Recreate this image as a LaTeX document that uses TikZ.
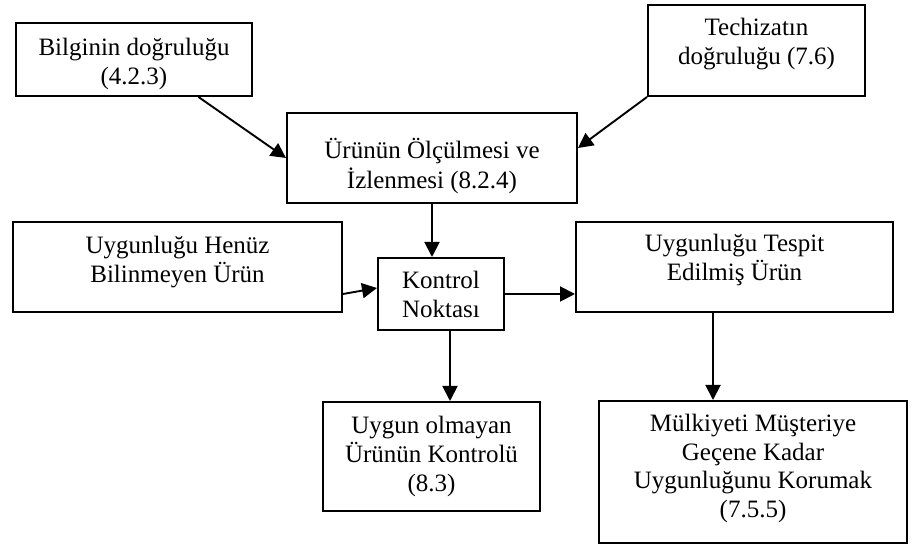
\documentclass[tikz,border=0pt]{standalone}
\usepackage{fontspec}
\setmainfont{Liberation Serif}
\usetikzlibrary{arrows.meta,calc}
\tikzset{
  box/.style={draw, line width=2pt, rectangle, inner sep=0pt},
  lbl/.style={anchor=base, inner sep=0pt, font=\fontsize{25}{28.5}\selectfont},
  conn/.style={line width=1.9pt, -{Triangle[length=15pt,width=15pt]}},
}
\newcommand{\stacklines}[1]{\begin{tabular}[t]{@{}c@{}}#1\end{tabular}}
\begin{document}
\begin{tikzpicture}[x=1pt,y=-1pt]
\useasboundingbox (0,0) rectangle (914,545);

% boxes
\node[box, minimum width=236pt, minimum height=73pt]  (bilgi)   at (134,59.5)  {};
\node[box, minimum width=290pt, minimum height=90pt]  (olcum)   at (432,158)   {};
\node[box, minimum width=217pt, minimum height=91pt]  (techiz)  at (756.5,50.5) {};
\node[box, minimum width=329pt, minimum height=90pt]  (henuz)   at (177.5,267) {};
\node[box, minimum width=126pt, minimum height=72pt]  (kontrol) at (441,294)   {};
\node[box, minimum width=317pt, minimum height=90pt]  (tespit)  at (734.5,267) {};
\node[box, minimum width=217pt, minimum height=109pt] (uygunol) at (431.5,456.5) {};
\node[box, minimum width=308pt, minimum height=142pt] (mulk)    at (753,472) {};

% texts
\node[lbl] (tbilgi)   at ($(bilgi.north)+(0,34)$)   {\stacklines{Bilginin doğruluğu\\(4.2.3)}};
\node[lbl] (tolcum)   at ($(olcum.north)+(0,47)$)   {\stacklines{Ürünün Ölçülmesi ve\\İzlenmesi (8.2.4)}};
\node[lbl] (ttechiz)  at ($(techiz.north)+(0,32)$)  {\stacklines{Techizatın\\doğruluğu (7.6)}};
\node[lbl] (thenuz)   at ($(henuz.north)+(0,33)$)   {\stacklines{Uygunluğu Henüz\\Bilinmeyen Ürün}};
\node[lbl] (tkontrol) at ($(kontrol.north)+(0,32)$) {\stacklines{Kontrol\\Noktası}};
\node[lbl] (ttespit)  at ($(tespit.north)+(0,31)$)  {\stacklines{Uygunluğu Tespit\\Edilmiş Ürün}};
\node[lbl] (tuygunol) at ($(uygunol.north)+(0,33)$) {\stacklines{Uygun olmayan\\Ürünün Kontrolü\\(8.3)}};
\node[lbl] (tmulk)    at ($(mulk.north)+(0,32)$)    {\stacklines{Mülkiyeti Müşteriye\\Geçene Kadar\\Uygunluğunu Korumak\\(7.5.5)}};

% connector end points
\coordinate (bilgiout) at ($(bilgi.south west)!0.771!(bilgi.south east)$);
\coordinate (techin)   at ($(olcum.east)+(0,-10)$);
\coordinate (henuzout) at ($(henuz.east)+(0,27)$);
\coordinate (kontin)   at ($(kontrol.west)+(0,-6)$);
\coordinate (kontdown) at ($(kontrol.south)+(9,0)$);
\coordinate (tespdown) at ($(tespit.south)+(-21.5,0)$);

% connectors
\draw[conn] (bilgiout) -- (olcum.west);
\draw[conn] (techiz.south west) -- (techin);
\draw[conn] (olcum.south) -- (olcum.south |- kontrol.north);
\draw[conn] (henuzout) -- (kontin);
\draw[conn] (kontrol.east) -- (kontrol.east -| tespit.west);
\draw[conn] (kontdown) -- (kontdown |- uygunol.north);
\draw[conn] (tespdown) -- (tespdown |- mulk.north);
\end{tikzpicture}
\end{document}
